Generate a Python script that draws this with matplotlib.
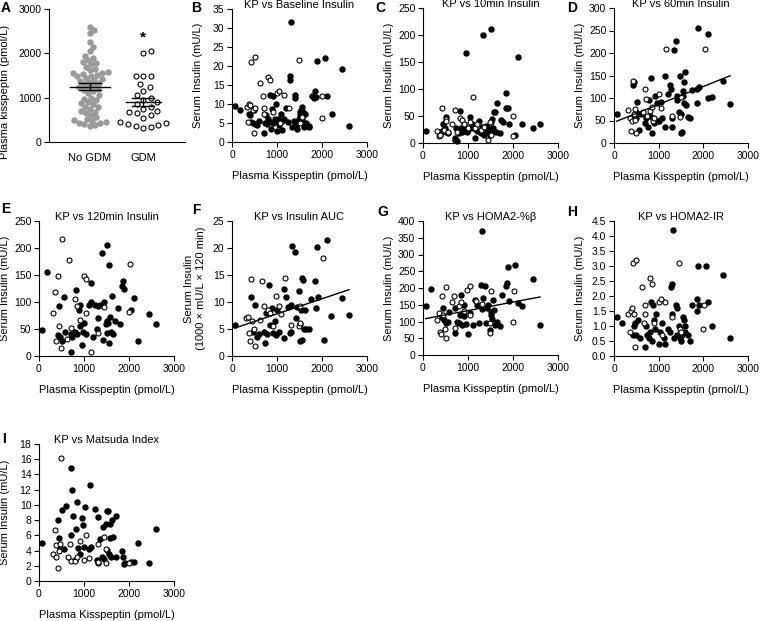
import numpy as np
import matplotlib
matplotlib.use('Agg')
import matplotlib.pyplot as plt

plt.rcParams['font.family'] = ['Liberation Sans', 'DejaVu Sans']

# Panel A: plasma kisspeptin by group (pmol/L)
a_nogdm = [2600, 2520, 2450, 2250, 2150, 2050, 1950, 1900, 1850, 1800, 1780, 1750, 1700,
           1650, 1620, 1580, 1560, 1550, 1540, 1520, 1500, 1480, 1450, 1420, 1400, 1380,
           1350, 1320, 1300, 1280, 1250, 1230, 1200, 1180, 1150, 1100, 1050, 1000, 980,
           950, 900, 880, 850, 800, 780, 750, 700, 680, 650, 600, 560, 520, 500, 480, 450,
           430, 420, 400, 380, 370]
a_gdm = [2050, 2000, 1500, 1480, 1480, 1300, 1250, 1150, 1050, 1000, 950, 900, 850, 800,
         750, 700, 680, 650, 600, 550, 450, 420, 400, 380, 350, 330, 320]
a_groups = ['No GDM', 'GDM']

# Panel B: baseline insulin
b_closed_x = [60, 170, 370, 400, 430, 460, 480, 520, 560, 600, 720, 740, 760, 780, 800, 820,
              850, 860, 880, 900, 920, 950, 980, 1000, 1000, 1020, 1050, 1080, 1100, 1120,
              1150, 1200, 1240, 1280, 1290, 1310, 1340, 1380, 1400, 1400, 1420, 1450, 1480,
              1500, 1500, 1520, 1540, 1550, 1560, 1580, 1600, 1620, 1650, 1700, 1720, 1780,
              1830, 1850, 1870, 1880, 2060, 2100, 2220, 2450, 2610]
b_closed_y = [9.5, 8.5, 7.5, 7.2, 5.2, 5, 8.5, 4.8, 4.5, 5.5, 2.3, 5, 7, 4.8, 6, 5.5, 12.3,
              3.5, 8.8, 12, 5, 6, 10, 3, 5.5, 6, 4.5, 7.5, 3.2, 5.5, 6, 9, 5.3, 16.2, 17.3,
              31.7, 4, 5.5, 12.5, 11.7, 4.5, 3.5, 6, 8, 5.5, 7, 8.5, 9.2, 6, 7.8, 4, 7.5, 5,
              4.2, 3.9, 12, 11.5, 13.5, 11.8, 21.4, 22, 12.1, 7.3, 19.2, 4.1]
b_open_x = [340, 350, 370, 400, 420, 460, 480, 500, 520, 620, 680, 700, 710, 800, 850, 900,
            1000, 1050, 1150, 1060, 1260, 1480, 1500, 1550, 1990, 2000]
b_open_y = [9.3, 5.3, 10, 9.8, 21, 8.5, 2.3, 22.3, 9, 15.5, 12, 9, 7.5, 17.2, 16.3, 7.8, 13,
            13.5, 12.3, 5, 9, 21.5, 5, 6.5, 6.4, 12]

# Panel C: 10 min insulin
c_closed_x = [60, 380, 430, 450, 480, 500, 520, 550, 700, 720, 740, 760, 800, 830, 850, 870,
              900, 920, 950, 980, 1000, 1040, 1080, 1100, 1150, 1200, 1250, 1280, 1300, 1340,
              1350, 1380, 1400, 1420, 1450, 1480, 1500, 1500, 1520, 1540, 1560, 1580, 1600,
              1620, 1650, 1700, 1740, 1780, 1850, 1850, 1880, 1900, 2050, 2100, 2200, 2450, 2600]
c_closed_y = [22, 15, 22, 35, 28, 48, 20, 18, 10, 5, 28, 3, 18, 60, 28, 20, 27, 33, 167, 20,
              25, 48, 35, 28, 10, 22, 40, 18, 30, 200, 15, 25, 32, 20, 28, 15, 212, 38, 22, 45,
              28, 58, 58, 20, 75, 18, 42, 38, 93, 65, 65, 35, 14, 160, 35, 27, 35]
c_open_x = [320, 350, 380, 420, 460, 500, 520, 560, 650, 700, 760, 820, 860, 900, 1000, 1040,
            1120, 1150, 1200, 1280, 1350, 1450, 1500, 1480, 2000, 2000]
c_open_y = [22, 13, 15, 65, 25, 45, 40, 20, 35, 62, 20, 47, 42, 35, 28, 38, 85, 28, 35, 25,
            30, 5, 15, 38, 50, 13]

# Panel D: 60 min insulin
d_closed_x = [60, 430, 450, 460, 490, 500, 520, 560, 600, 700, 720, 750, 780, 800, 830, 850,
              870, 900, 920, 960, 980, 1000, 1050, 1080, 1150, 1150, 1200, 1250, 1270, 1300,
              1300, 1340, 1380, 1400, 1420, 1450, 1480, 1500, 1500, 1520, 1540, 1550, 1560,
              1560, 1600, 1620, 1650, 1700, 1750, 1850, 1850, 1880, 1900, 2100, 2100, 2200,
              2450, 2600]
d_closed_y = [65, 130, 135, 60, 55, 70, 92, 30, 65, 45, 55, 35, 95, 60, 145, 22, 55, 45, 105,
              88, 50, 48, 92, 55, 35, 150, 110, 130, 120, 35, 55, 207, 227, 105, 95, 70, 148,
              22, 65, 25, 105, 115, 90, 135, 157, 85, 57, 55, 118, 120, 90, 255, 125, 243,
              100, 102, 137, 87]
d_open_x = [320, 350, 380, 400, 420, 450, 470, 480, 500, 650, 690, 710, 740, 800, 850, 880,
            900, 1000, 1050, 1170, 1300, 1480, 1500, 2030]
d_open_y = [73, 55, 27, 50, 138, 65, 52, 75, 22, 68, 120, 97, 60, 72, 80, 50, 55, 108, 78,
            210, 60, 57, 103, 210]
d_fit = (46, 0.0398)   # intercept, slope

# Panel E: 120 min insulin
e_closed_x = [60, 180, 430, 450, 470, 500, 550, 580, 700, 720, 740, 800, 820, 850, 880, 900,
              920, 950, 980, 1000, 1050, 1100, 1150, 1150, 1200, 1250, 1280, 1300, 1320, 1350,
              1400, 1420, 1450, 1480, 1500, 1500, 1520, 1540, 1560, 1560, 1580, 1600, 1620,
              1650, 1680, 1750, 1800, 1850, 1860, 1880, 2050, 2100, 2200, 2450, 2600]
e_closed_y = [48, 155, 38, 92, 35, 28, 110, 45, 40, 8, 35, 45, 123, 40, 85, 95, 55, 20, 45,
              62, 40, 95, 100, 135, 35, 95, 50, 92, 70, 95, 190, 30, 100, 60, 205, 42, 65,
              62, 168, 25, 72, 45, 112, 40, 65, 88, 60, 130, 138, 125, 85, 108, 28, 78, 60]
e_open_x = [320, 350, 380, 420, 450, 480, 500, 630, 660, 700, 800, 850, 900, 1000, 1040,
            1050, 1150, 1300, 1450, 2000, 2020]
e_open_y = [80, 118, 28, 148, 55, 15, 216, 32, 178, 52, 105, 92, 67, 148, 143, 80, 7, 42,
            90, 82, 171]

# Panel F: insulin AUC
f_closed_x = [60, 430, 470, 520, 560, 600, 700, 730, 760, 780, 820, 850, 880, 900, 950, 980,
              1000, 1050, 1150, 1150, 1200, 1250, 1290, 1300, 1320, 1340, 1400, 1420, 1450,
              1480, 1500, 1520, 1530, 1550, 1560, 1580, 1600, 1620, 1650, 1700, 1750, 1850,
              1860, 1880, 1900, 2050, 2100, 2200, 2450, 2600]
f_closed_y = [5.8, 11, 4.5, 9.5, 3.5, 4, 4.5, 2.5, 8, 4, 13.2, 5.8, 8.8, 4.2, 6.5, 3.8, 8.5,
              4.5, 3.3, 12.5, 11, 9, 4.3, 4.5, 9.5, 20.3, 19.3, 7, 9, 12, 2.8, 6, 8.5, 3, 14.5,
              14, 5, 8.5, 5, 5, 10.5, 13.8, 8.8, 20.2, 11, 3, 21.5, 7.5, 10.8, 7.6]
f_open_x = [320, 350, 380, 400, 420, 450, 480, 500, 620, 670, 700, 800, 850, 900, 980, 1050,
            1080, 1170, 1300, 1480, 1500, 1510, 2030]
f_open_y = [7, 7.3, 4.3, 2.7, 14.2, 6.5, 5, 1.8, 6.7, 13.8, 9.2, 8.5, 8, 5.5, 11.2, 9.2, 7.8,
            14.4, 5.7, 5.5, 9.3, 6.2, 18.2]
f_fit = (5.0, 0.0028)

# Panel G: HOMA2-%beta
g_closed_x = [60, 180, 430, 450, 470, 500, 550, 580, 700, 720, 750, 800, 820, 850, 870, 900,
              920, 950, 1000, 1050, 1100, 1150, 1200, 1250, 1280, 1300, 1320, 1340, 1380, 1400,
              1420, 1450, 1480, 1500, 1520, 1540, 1560, 1580, 1600, 1650, 1700, 1750, 1850,
              1860, 1880, 1900, 2050, 2100, 2200, 2450, 2600]
g_closed_y = [145, 197, 112, 140, 105, 95, 98, 128, 65, 140, 100, 95, 120, 180, 90, 150, 115,
              93, 62, 125, 90, 165, 148, 95, 210, 370, 138, 170, 205, 95, 140, 148, 75, 118,
              128, 108, 165, 135, 90, 100, 88, 178, 205, 215, 262, 160, 268, 155, 145, 227, 90]
g_open_x = [320, 350, 380, 400, 420, 450, 480, 500, 500, 650, 680, 700, 800, 850, 900, 980,
            1040, 1050, 1170, 1300, 1480, 1480, 1500, 2000, 2020]
g_open_y = [103, 125, 70, 62, 175, 120, 78, 50, 202, 157, 175, 80, 145, 158, 130, 195, 205,
            118, 160, 152, 67, 97, 190, 100, 190]
g_fit = (107, 0.0255)

# Panel H: HOMA2-IR
h_closed_x = [60, 180, 430, 450, 470, 500, 530, 580, 700, 720, 740, 780, 800, 830, 850, 880,
              900, 920, 950, 1000, 1020, 1080, 1120, 1150, 1200, 1250, 1280, 1290, 1300, 1320,
              1350, 1380, 1400, 1420, 1450, 1480, 1500, 1520, 1540, 1560, 1580, 1600, 1650,
              1700, 1750, 1850, 1860, 1880, 1900, 2050, 2100, 2200, 2450, 2600]
h_closed_y = [1.3, 1.1, 0.7, 1.0, 1.1, 0.7, 1.2, 0.6, 0.3, 1.0, 0.7, 0.6, 0.8, 1.8, 0.5, 1.7,
              1.2, 0.9, 1.4, 0.4, 0.8, 1.1, 0.6, 0.4, 0.9, 0.8, 2.3, 2.4, 1.4, 4.2, 0.6, 1.7,
              1.6, 0.7, 1.0, 0.6, 0.5, 0.7, 1.3, 1.2, 0.8, 1.0, 0.7, 0.5, 1.7, 1.5, 1.9, 3.0,
              1.7, 3.0, 1.8, 1.0, 2.7, 0.6]
h_open_x = [320, 350, 380, 400, 420, 450, 480, 500, 620, 680, 700, 700, 800, 850, 900, 1000,
            1050, 1080, 1150, 1300, 1450, 1480, 1500, 2000, 2020]
h_open_y = [1.4, 0.8, 1.5, 1.6, 3.1, 1.4, 0.3, 3.2, 2.3, 1.1, 1.7, 1.4, 2.6, 2.4, 1.1, 1.8,
            1.9, 0.7, 1.8, 1.3, 3.1, 0.9, 0.8, 0.9, 1.7]

# Panel I: Matsuda index
i_closed_x = [60, 430, 450, 470, 500, 550, 600, 700, 700, 740, 760, 800, 820, 850, 870, 900,
              950, 970, 1000, 1030, 1100, 1130, 1150, 1250, 1280, 1300, 1320, 1350, 1400,
              1420, 1450, 1480, 1500, 1520, 1540, 1560, 1580, 1580, 1600, 1620, 1650, 1700,
              1720, 1850, 1860, 1880, 1900, 2050, 2100, 2200, 2450, 2600]
i_closed_y = [5, 8, 5.7, 4.3, 9.3, 4.2, 9.9, 14.9, 6.1, 12, 8.5, 2.7, 6.8, 10.4, 4.3, 3.6,
              8.3, 7.3, 4.5, 9.7, 4.2, 12.6, 4.5, 9.4, 2.7, 2.3, 8.4, 5.5, 3.2, 7.1, 2.9, 7.5,
              9.2, 4.1, 9.2, 3.6, 7.5, 5.7, 3.1, 8, 5.8, 3.2, 8.6, 4, 3.2, 2.2, 2.3, 2.5, 2.5,
              5, 2.4, 6.8]
i_open_x = [320, 350, 370, 380, 420, 450, 470, 480, 650, 680, 700, 800, 850, 900, 1000, 1050,
            1100, 1300, 1300, 1450, 1480, 1480, 2000]
i_open_y = [3.5, 6.7, 3.2, 4.7, 1.7, 4, 4.9, 16.2, 3.1, 4.8, 2.6, 2.6, 3.2, 5.3, 2.7, 6, 3,
            2.5, 4.9, 5.8, 2.3, 4.2, 2.3]

W, H = 761, 621
fig = plt.figure(figsize=(W / 100, H / 100), dpi=100)


def add_ax(l, t, r, b):
    return fig.add_axes([l / W, 1 - b / H, (r - l) / W, (b - t) / H])


def base_style(ax):
    for s in ['top', 'right']:
        ax.spines[s].set_visible(False)
    for s in ['left', 'bottom']:
        ax.spines[s].set_linewidth(0.8)
    ax.tick_params(direction='out', length=3.5, width=0.8, labelsize=7.5, pad=2)


def letter(x, y, s):
    fig.text(x / W, 1 - y / H, s, fontsize=10, fontweight='bold', ha='left', va='center')


def scatter_panel(box, title, cx, cy, ox, oy, ymax, ystep, fit=None, ylabel='Serum Insulin (mU/L)',
                  fmt=None, ylab_x=-0.215):
    ax = add_ax(*box)
    base_style(ax)
    ax.plot(cx, cy, 'o', ms=3.6, color='black', mec='black', clip_on=False, zorder=3)
    ax.plot(ox, oy, 'o', ms=3.6, mfc='white', mec='black', mew=0.8, clip_on=False, zorder=3)
    if fit is not None:
        xs = np.array([min(cx + ox), max(cx + ox)])
        ax.plot(xs, fit[0] + fit[1] * xs, color='black', lw=1, zorder=4)
    ax.set_xlim(0, 3000)
    ax.set_ylim(0, ymax)
    ax.set_xticks([0, 1000, 2000, 3000])
    ax.set_yticks(np.arange(0, ymax + ystep / 2, ystep))
    if fmt:
        ax.yaxis.set_major_formatter(plt.FormatStrFormatter(fmt))
    ax.set_xlabel('Plasma Kisspeptin (pmol/L)', fontsize=8, labelpad=8)
    ax.set_ylabel(ylabel, fontsize=8, linespacing=1.3)
    ax.yaxis.set_label_coords(ylab_x, 0.5)
    ax.text(0.5, 1.008, title, transform=ax.transAxes, ha='center', va='baseline', fontsize=8)
    return ax


def swarm(vals, gap, ypx, xpx):
    # simple beeswarm offsets (in data units) so dots don't overlap
    order = np.argsort(vals)
    placed = []
    offs = np.zeros(len(vals))
    cands = [0.0]
    for k in range(1, 60):
        cands += [k * 0.5, -k * 0.5]
    for i in order:
        y = vals[i] * ypx
        for c in cands:
            if all((c - px) ** 2 + (y - py) ** 2 >= gap ** 2 for px, py in placed):
                placed.append((c, y))
                offs[i] = c / xpx
                break
    return offs


# ---- Panel A ----
axA = add_ax(49, 9, 185, 142)
base_style(axA)
ypx = 133 / 3000
xpx = 53
vals_n = np.array(a_nogdm, float)
vals_g = np.array(a_gdm, float)
axA.plot(1 + swarm(vals_n, 5.2, ypx, xpx), vals_n, 'o', ms=3.6, color='#9a9a9a', clip_on=False)
axA.plot(2 + swarm(vals_g, 7.5, ypx, xpx), vals_g, 'o', ms=3.6, mfc='white', mec='black',
         mew=0.8, clip_on=False)
for pos, v, hw in [(1, vals_n, 0.38), (2, vals_g, 0.33)]:
    m = v.mean()
    se = v.std(ddof=1) / np.sqrt(len(v))
    axA.plot([pos - hw, pos + hw], [m, m], color='black', lw=1, zorder=4)
    axA.plot([pos - 0.2, pos + 0.2], [m - se, m - se], color='black', lw=1, zorder=4)
    axA.plot([pos - 0.2, pos + 0.2], [m + se, m + se], color='black', lw=1, zorder=4)
    axA.plot([pos, pos], [m - se, m + se], color='black', lw=1, zorder=4)
axA.text(2, vals_g.max() + 150, '*', ha='center', va='bottom', fontsize=11, fontweight='bold')
axA.set_xlim(0.23, 2.79)
axA.set_ylim(0, 3000)
axA.set_yticks([0, 1000, 2000, 3000])
axA.set_xticks([1, 2])
axA.set_xticklabels(a_groups, fontsize=8)
axA.tick_params(axis='x', length=0, pad=8)
axA.set_ylabel('Plasma kisspeptin (pmol/L)', fontsize=8)
axA.yaxis.set_label_coords(-0.29, 0.38)

# ---- scatter panels ----
scatter_panel((232, 9, 367, 142), 'KP vs Baseline Insulin', b_closed_x, b_closed_y,
              b_open_x, b_open_y, 35, 5)
scatter_panel((423, 8, 558, 143), 'KP vs 10min Insulin', c_closed_x, c_closed_y,
              c_open_x, c_open_y, 250, 50)
scatter_panel((614, 8, 748, 143), 'KP vs 60min Insulin', d_closed_x, d_closed_y,
              d_open_x, d_open_y, 300, 50, fit=d_fit)
scatter_panel((39, 221, 174, 356), 'KP vs 120min Insulin', e_closed_x, e_closed_y,
              e_open_x, e_open_y, 250, 50)
scatter_panel((232, 221, 367, 356), 'KP vs Insulin AUC', f_closed_x, f_closed_y,
              f_open_x, f_open_y, 25, 5, fit=f_fit,
              ylabel='Serum Insulin\n(1000 \u00d7 mU/L \u00d7 120 min)', ylab_x=-0.19)
scatter_panel((423, 221, 558, 355), 'KP vs HOMA2-%\u03b2', g_closed_x, g_closed_y,
              g_open_x, g_open_y, 400, 50, fit=g_fit)
scatter_panel((614, 221, 748, 356), 'KP vs HOMA2-IR', h_closed_x, h_closed_y,
              h_open_x, h_open_y, 4.5, 0.5, fmt='%.1f')
scatter_panel((39, 444, 174, 581), 'KP vs Matsuda Index', i_closed_x, i_closed_y,
              i_open_x, i_open_y, 18, 2)

for x, y, s in [(1, 8, 'A'), (191, 8, 'B'), (375, 8, 'C'), (567, 8, 'D'),
                (1, 209, 'E'), (192, 210, 'F'), (377, 212, 'G'), (567, 212, 'H'),
                (2, 439, 'I')]:
    letter(x, y, s)

fig.savefig('out.png', dpi=100)
